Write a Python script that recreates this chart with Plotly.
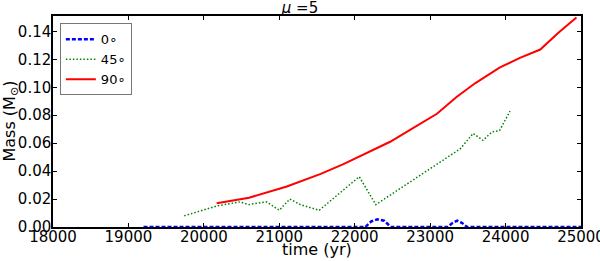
import plotly.graph_objects as go

# 0 deg: mostly zero, two small bumps
t_0 = [19200, 20000, 21000, 22000, 22140, 22220, 22300, 22390, 22480, 23000,
       23230, 23300, 23360, 23420, 23490, 24000, 25000]
m_0 = [0.0, 0.0, 0.0, 0.0, 0.0, 0.004, 0.0055, 0.0045, 0.0, 0.0,
       0.0, 0.003, 0.0045, 0.003, 0.0, 0.0, 0.0]

# 45 deg
t_45 = [19740, 20170, 20480, 20590, 20830, 21000, 21140, 21280, 21530,
        22060, 22280, 22700, 23050, 23400, 23570, 23700, 23820, 23920, 24060]
m_45 = [0.008, 0.015, 0.018, 0.016, 0.018, 0.012, 0.020, 0.016, 0.012,
        0.036, 0.016, 0.031, 0.044, 0.056, 0.067, 0.062, 0.068, 0.069, 0.083]

# 90 deg
t_90 = [20170, 20600, 21100, 21550, 21850, 22150, 22470, 22750, 23090,
        23350, 23600, 23920, 24190, 24460, 24700, 24940]
m_90 = [0.017, 0.021, 0.029, 0.038, 0.045, 0.053, 0.061, 0.070, 0.081,
        0.093, 0.103, 0.114, 0.121, 0.127, 0.139, 0.150]

x_ticks = [18000, 19000, 20000, 21000, 22000, 23000, 24000, 25000]
y_ticks = [0.0, 0.02, 0.04, 0.06, 0.08, 0.10, 0.12, 0.14]

fig = go.Figure()
fig.add_trace(go.Scatter(x=t_0, y=m_0, mode="lines", name="0∘",
                         line=dict(color="#0000ff", width=2.5, dash="4px,2px")))
fig.add_trace(go.Scatter(x=t_45, y=m_45, mode="lines", name="45∘",
                         line=dict(color="#008000", width=1.5, dash="1.5px,2px")))
fig.add_trace(go.Scatter(x=t_90, y=m_90, mode="lines", name="90∘",
                         line=dict(color="#ff0000", width=2)))

axis_common = dict(
    showline=True, linecolor="black", linewidth=1.5, mirror="ticks",
    ticks="inside", ticklen=4, tickcolor="black", showgrid=False,
    zeroline=False, tickfont=dict(size=15, color="black"),
    ticklabeloverflow="allow", automargin=False,
)

fig.update_layout(
    width=600, height=261,
    margin=dict(l=53, r=19, t=16, b=34),
    paper_bgcolor="white", plot_bgcolor="white",
    font=dict(family="DejaVu Sans", color="black"),
    title=dict(text="<i>μ</i> =5", x=0.5, xanchor="center", y=0.99,
               yanchor="top", font=dict(size=15)),
    xaxis=dict(range=[18000, 25000], tickvals=x_ticks,
               ticktext=[str(v) for v in x_ticks], ticklabelstandoff=-5,
               **axis_common),
    yaxis=dict(range=[0, 0.151], tickvals=y_ticks,
               ticktext=["%.2f" % v for v in y_ticks], ticklabelstandoff=-3,
               **axis_common),
    legend=dict(x=0.013, y=0.965, xanchor="left", yanchor="top",
                bgcolor="white", bordercolor="#777777", borderwidth=1,
                font=dict(size=13), itemwidth=30, tracegroupgap=0),
    showlegend=True,
)

# axis titles placed by hand
fig.add_annotation(text="time (yr)", xref="paper", yref="paper", x=0.5, y=0,
                   xanchor="center", yanchor="middle", yshift=-22,
                   showarrow=False, font=dict(size=16))
fig.add_annotation(text="Mass (M<sub>⊙</sub>)", xref="paper", yref="paper",
                   x=0, y=0.5, xanchor="center", yanchor="middle", xshift=-43,
                   textangle=-90, showarrow=False, font=dict(size=16))

# page body has a default margin; drop it so the figure sits at the corner
fig.write_html("out.html", config={"displayModeBar": False},
               post_script="document.body.style.margin='0';")
